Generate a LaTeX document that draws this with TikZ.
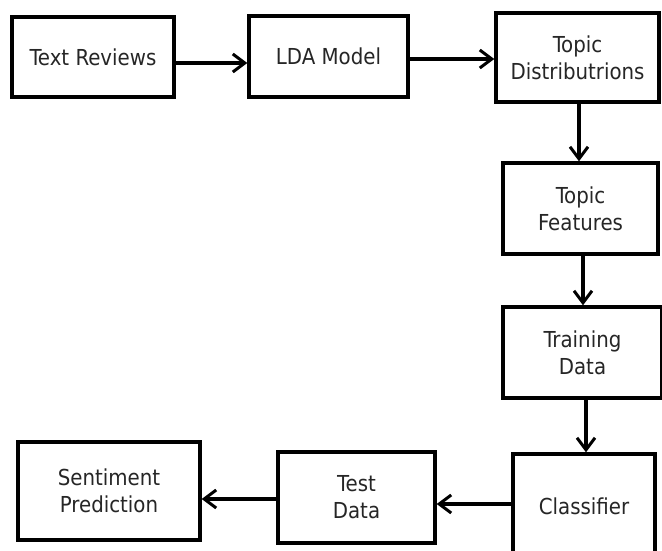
\documentclass[tikz,border=0pt]{standalone}
\usepackage{fontspec}
\setmainfont{DejaVu Sans Condensed}
\usetikzlibrary{arrows.meta}
\begin{document}
\begin{tikzpicture}[x=1pt,y=-1pt,
  box/.style={draw=black, line width=3.4pt, align=center, inner sep=0pt,
    text=black!85, font=\fontsize{22}{27}\selectfont},
  arr/.style={line width=3.4pt, -{Straight Barb[length=12pt,width=18pt,line width=3pt]}}]
\useasboundingbox (0,0) rectangle (662,551);
\clip (0,0) rectangle (662,551);
\fill[white] (0,0) rectangle (662,551);
\node[box, minimum width=162pt, minimum height=80pt] (tr) at (93,57) {Text Reviews};
\node[box, minimum width=159pt, minimum height=81pt] (lda) at (328.5,56.5) {LDA Model};
\node[box, minimum width=163pt, minimum height=89pt] (td) at (577.5,57.5) {Topic\\Distributrions};
\node[box, minimum width=155pt, minimum height=91pt] (tf) at (580.5,208.5) {Topic\\Features};
\node[box, minimum width=159pt, minimum height=91pt] (trd) at (582.5,352.5) {Training\\Data};
\node[box, minimum width=142pt, minimum height=104pt, text depth=0pt] (cl) at (584,506) {Classifier};
\node[box, minimum width=157pt, minimum height=91pt] (tst) at (356.5,497.5) {Test\\Data};
\node[box, minimum width=182pt, minimum height=98pt] (sp) at (109,491) {Sentiment\\Prediction};
\draw[arr] (tr.east |- 0,63) -- (lda.west |- 0,63);
\draw[arr] (lda.east |- 0,59) -- (td.west |- 0,59);
\draw[arr] (td.south -| 579,0) -- (tf.north -| 579,0);
\draw[arr] (tf.south -| 583,0) -- (trd.north -| 583,0);
\draw[arr] (trd.south -| 586,0) -- (cl.north -| 586,0);
\draw[arr] (cl.west |- 0,504) -- (tst.east |- 0,504);
\draw[arr] (tst.west |- 0,499) -- (sp.east |- 0,499);
\end{tikzpicture}
\end{document}
